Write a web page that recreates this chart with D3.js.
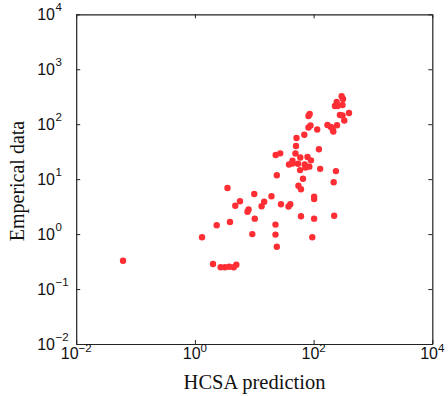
<!DOCTYPE html>
<html>
<head>
<meta charset="utf-8">
<script src="https://cdn.jsdelivr.net/npm/d3@7"></script>
<style>
  html, body { margin: 0; padding: 0; background: #fff; }
  svg { display: block; }
</style>
</head>
<body>
<svg id="chart" width="448" height="396"></svg>
<script>
// HCSA prediction (x) vs Emperical data (y)
const hcsaPrediction = [
  297, 313, 245, 307, 229, 253, 395, 278, 307, 329,
  86, 82, 88.7, 82, 115, 171, 196, 248, 210, 215,
  69.7, 51.5, 50.5, 123, 49.5, 23, 27.4, 59.7, 78.9, 44.1,
  90.4, 38.5, 43.8, 54.6, 70.8, 73.1, 84.7, 129, 59.2, 238,
  24, 66.3, 218, 55.5, 61.3, 3.54, 10.0, 19.5, 102, 102,
  5.75, 4.79, 14.7, 13.3, 28.2, 40.5, 37.8, 8.03, 7.70, 2.33,
  3.90, 10.2, 22.8, 61.3, 102, 222, 1.32, 9.27, 22.8, 95.1,
  24, 0.0615, 2.02, 2.72, 3.21, 3.80, 4.51, 4.99
];
const empericalData = [
  322, 288, 254, 224, 214, 214, 160, 147, 144, 117,
  153, 141, 94.7, 87.1, 80.1, 96.7, 88.9, 95.5, 80.8, 73.6,
  64.4, 56.1, 40.1, 34.9, 29.3, 27.5, 29.5, 24.8, 25.3, 21.7,
  22.0, 18.5, 19.3, 19.1, 18.5, 16.3, 16.9, 15.4, 14.6, 14.0,
  11.8, 10.2, 8.77, 7.57, 6.54, 6.90, 5.37, 4.87, 4.77, 4.35,
  3.97, 3.29, 3.87, 3.21, 3.49, 3.50, 3.18, 2.80, 2.55, 1.45,
  1.66, 1.91, 1.49, 2.11, 1.91, 2.16, 0.875, 1.00, 0.98, 0.878,
  0.59, 0.327, 0.286, 0.249, 0.249, 0.254, 0.249, 0.277
];
const xTickValues = [1e-2, 1e0, 1e2, 1e4];
const xTickExponents = ["\u22122", "0", "2", "4"];
const yTickValues = [1e-2, 1e-1, 1e0, 1e1, 1e2, 1e3, 1e4];
const yTickExponents = ["\u22122", "\u22121", "0", "1", "2", "3", "4"];
const xLabel = "HCSA prediction";
const yLabel = "Emperical data";

const points = hcsaPrediction.map((x, i) => ({ x, y: empericalData[i] }));

const svg = d3.select("#chart");
const L = 76.2, R = 432.3, T = 14.3, B = 344;

const x = d3.scaleLog().domain([1e-2, 1e4]).range([L, R]);
const y = d3.scaleLog().domain([1e-2, 1e4]).range([B, T]);

const tickLen = 4;
const numFont = "'Liberation Sans', Arial, sans-serif";
const serif = "'Liberation Serif', 'Times New Roman', serif";

// Axes (ticks inward), box
const gB = svg.append("g").attr("transform", `translate(0,${B})`)
  .call(d3.axisBottom(x).tickValues(xTickValues).tickSizeInner(-tickLen).tickSizeOuter(0).tickFormat(""));
const gT = svg.append("g").attr("transform", `translate(0,${T})`)
  .call(d3.axisTop(x).tickValues(xTickValues).tickSizeInner(-tickLen).tickSizeOuter(0).tickFormat(""));
const gL = svg.append("g").attr("transform", `translate(${L},0)`)
  .call(d3.axisLeft(y).tickValues(yTickValues).tickSizeInner(-tickLen).tickSizeOuter(0).tickFormat(""));
const gR = svg.append("g").attr("transform", `translate(${R},0)`)
  .call(d3.axisRight(y).tickValues(yTickValues).tickSizeInner(-tickLen).tickSizeOuter(0).tickFormat(""));
[gB, gT, gL, gR].forEach(g => {
  g.selectAll("path.domain").attr("stroke", "#222").attr("stroke-width", 1.2);
  g.selectAll(".tick line").attr("stroke", "#222").attr("stroke-width", 1);
});

// X tick labels (10 with superscript)
xTickValues.forEach((v, i) => {
  const t = svg.append("text")
    .attr("x", x(v)).attr("y", B + 14.5)
    .attr("text-anchor", "middle")
    .attr("font-family", numFont).attr("font-size", 16).attr("fill", "#111");
  t.append("tspan").text("10");
  t.append("tspan").attr("dy", -7).attr("font-size", 11.5).text(xTickExponents[i]);
});

// Y tick labels: base "10" right-aligned, exponent after
yTickValues.forEach((v, i) => {
  svg.append("text")
    .attr("x", 55).attr("y", y(v) + 5.5)
    .attr("text-anchor", "end")
    .attr("font-family", numFont).attr("font-size", 16).attr("fill", "#111")
    .text("10");
  svg.append("text")
    .attr("x", 55.5).attr("y", y(v) - 3)
    .attr("font-family", numFont).attr("font-size", 11.5).attr("fill", "#111")
    .text(yTickExponents[i]);
});

// Axis titles
svg.append("text")
  .attr("x", 254.5).attr("y", 389)
  .attr("text-anchor", "middle")
  .attr("font-family", serif)
  .attr("font-size", 20.5).attr("fill", "#111")
  .text(xLabel);
svg.append("text")
  .attr("transform", `translate(24,181) rotate(-90)`)
  .attr("text-anchor", "middle")
  .attr("font-family", serif)
  .attr("font-size", 20).attr("fill", "#111")
  .text(yLabel);

// Points
svg.append("g").selectAll("circle")
  .data(points)
  .join("circle")
  .attr("cx", d => x(d.x))
  .attr("cy", d => y(d.y))
  .attr("r", 3.2)
  .attr("fill", "#ff2e35");
</script>
</body>
</html>
